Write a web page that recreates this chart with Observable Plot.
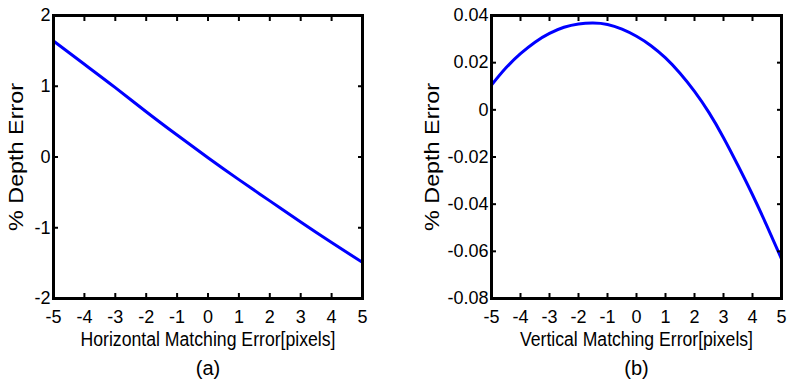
<!DOCTYPE html>
<html><head><meta charset="utf-8">
<script src="https://cdn.jsdelivr.net/npm/d3@7"></script>
<script src="https://cdn.jsdelivr.net/npm/@observablehq/plot@0.6"></script>
<style>
html,body{margin:0;padding:0;background:#fff;}
#wrap{display:flex;width:788px;height:388px;overflow:hidden;}
#wrap svg{display:block;}
</style></head><body><div id="wrap"></div>
<script>
// ---- data ----
const xTicks = [-5, -4, -3, -2, -1, 0, 1, 2, 3, 4, 5];
const hMatchErr = [-5, -4, -3, -2, -1, 0, 1, 2, 3, 4, 5];
const hDepthErr = [1.64, 1.31, 0.98, 0.64, 0.31, -0.01, -0.32, -0.62, -0.92, -1.21, -1.49];
const vMatchErr = [-5, -4.5, -4, -3.5, -3, -2.5, -2, -1.5, -1, -0.5, 0, 0.5, 1, 1.5, 2, 2.5, 3, 3.5, 4, 4.5, 5];
const vDepthErr = [0.0105, 0.0178, 0.0238, 0.0287, 0.0324, 0.035, 0.0364, 0.0368, 0.0362, 0.0342, 0.0312, 0.0272, 0.022, 0.0155, 0.0078, -0.0012, -0.0118, -0.0236, -0.036, -0.0493, -0.0632];
const yTicksA = [-2, -1, 0, 1, 2];
const yTicksB = [-0.08, -0.06, -0.04, -0.02, 0, 0.02, 0.04];
const xLabelA = "Horizontal Matching Error[pixels]";
const xLabelB = "Vertical Matching Error[pixels]";
const yLabel = "% Depth Error";
const captionA = "(a)";
const captionB = "(b)";

const fmt = d => String(d);
const font = "'Liberation Sans', Arial, Helvetica, sans-serif";

function panel({xs, ys, yDomain, yTicks, xLabel, caption, marginLeft, marginRight, yLabelOffset, xLabelLen}) {
  const data = xs.map((x, i) => ({x, y: ys[i]}));
  const svg = Plot.plot({
    width: 394,
    height: 388,
    marginLeft, marginRight,
    marginTop: 15,
    marginBottom: 90,
    style: {fontFamily: font, fontSize: "18px", color: "#000", background: "#fff"},
    x: {domain: [-5, 5]},
    y: {domain: yDomain},
    marks: [
      Plot.line(data, {x: "x", y: "y", stroke: "#0000ff", strokeWidth: 3, curve: "natural"}),
      Plot.frame({stroke: "#000", strokeWidth: 3}),
      Plot.axisX(xTicks, {anchor: "bottom", tickSize: -5, tickPadding: 17, tickFormat: fmt, strokeWidth: 2,
        label: xLabel, labelAnchor: "center", labelOffset: 47, labelArrow: "none", fontSize: 18}),
      Plot.axisX(xTicks, {anchor: "top", tickSize: -5, strokeWidth: 2, tickFormat: () => "", label: null}),
      Plot.axisY(yTicks, {anchor: "left", tickSize: -5, tickPadding: 8, tickFormat: fmt, strokeWidth: 2,
        label: yLabel, labelAnchor: "center", labelOffset: yLabelOffset, labelArrow: "none", fontSize: 18}),
      Plot.axisY(yTicks, {anchor: "right", tickSize: -5, strokeWidth: 2, tickFormat: () => "", label: null}),
      Plot.text([caption], {text: d => d, frameAnchor: "bottom", dy: 76, fontSize: 20})
    ]
  });
  const strip = function() {
    const t = d3.select(this);
    t.text(t.text().replace(/\s*[↑↓→←]\s*/g, ""));
  };
  d3.select(svg).selectAll('g[aria-label="y-axis label"] text').each(strip)
    .attr("textLength", 148).attr("lengthAdjust", "spacingAndGlyphs").style("font-size", "20px");
  d3.select(svg).selectAll('g[aria-label="x-axis label"] text').each(strip)
    .attr("textLength", xLabelLen).attr("lengthAdjust", "spacingAndGlyphs").style("font-size", "20px");
  return svg;
}

const wrap = document.getElementById("wrap");
wrap.appendChild(panel({xs: hMatchErr, ys: hDepthErr, yDomain: [-2, 2], yTicks: yTicksA,
  xLabel: xLabelA, caption: captionA, marginLeft: 53, marginRight: 32, yLabelOffset: 45, xLabelLen: 255}));
wrap.appendChild(panel({xs: vMatchErr, ys: vDepthErr, yDomain: [-0.08, 0.04], yTicks: yTicksB,
  xLabel: xLabelB, caption: captionB, marginLeft: 97, marginRight: 7, yLabelOffset: 67, xLabelLen: 233}));
</script>
</body></html>
